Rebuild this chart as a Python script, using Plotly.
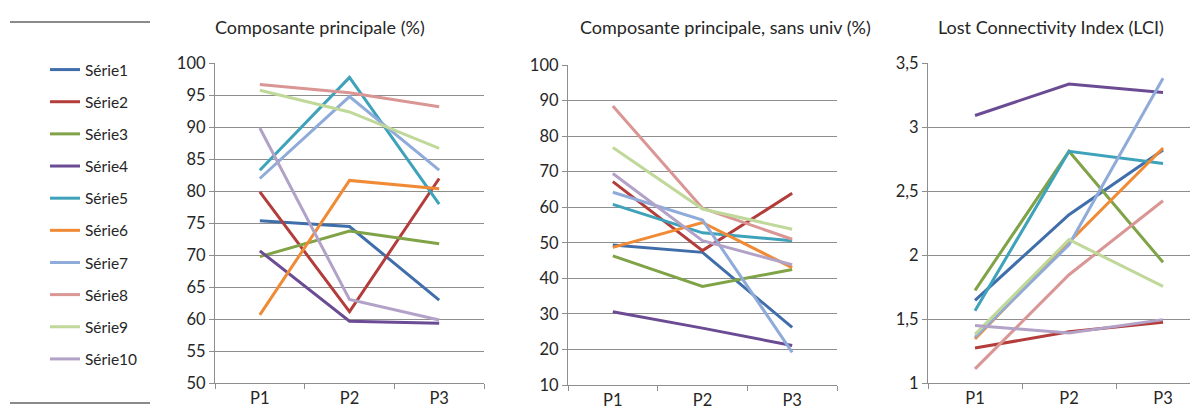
import plotly.graph_objects as go

categories = ["P1", "P2", "P3"]
series_names = ["Série1", "Série2", "Série3", "Série4", "Série5",
                "Série6", "Série7", "Série8", "Série9", "Série10"]
colors = ["#3f6eab", "#b33d3a", "#7fa346", "#6b4c94", "#3ea2ba",
          "#f08a35", "#8fabd9", "#d99694", "#c0d899", "#b3a2c8"]

comp_principale = [
    [75.4, 74.5, 63.0],
    [79.9, 61.2, 82.0],
    [69.8, 73.8, 71.8],
    [70.7, 59.7, 59.4],
    [83.3, 97.8, 78.0],
    [60.7, 81.7, 80.4],
    [82.0, 94.8, 83.3],
    [96.7, 95.4, 93.2],
    [95.8, 92.4, 86.7],
    [89.9, 63.1, 59.9],
]
comp_sans_univ = [
    [49.4, 47.3, 26.2],
    [67.2, 47.8, 63.9],
    [46.3, 37.7, 42.5],
    [30.6, 26.0, 21.1],
    [60.8, 52.8, 50.6],
    [48.7, 55.7, 43.0],
    [64.2, 56.4, 19.2],
    [88.5, 59.7, 51.0],
    [76.8, 59.5, 53.8],
    [69.5, 50.6, 43.8],
]
lci = [
    [1.646, 2.315, 2.82],
    [1.273, 1.40, 1.474],
    [1.724, 2.81, 1.943],
    [3.09, 3.336, 3.27],
    [1.565, 2.81, 2.714],
    [1.344, 2.10, 2.836],
    [1.357, 2.08, 3.38],
    [1.11, 1.846, 2.424],
    [1.38, 2.12, 1.755],
    [1.45, 1.39, 1.495],
]

titles = ["Composante principale (%)",
          "Composante principale, sans univ (%)",
          "Lost Connectivity Index (LCI)"]
y1_ticks = [50, 55, 60, 65, 70, 75, 80, 85, 90, 95, 100]
y2_ticks = [10, 20, 30, 40, 50, 60, 70, 80, 90, 100]
y3_ticks = [1, 1.5, 2, 2.5, 3, 3.5]
y3_ticktext = ["1", "1,5", "2", "2,5", "3", "3,5"]

FONT = "Lato"
W, H = 1198, 412
OFF = 8  # page offset of the figure inside the browser window
fig = go.Figure()

panels = [(comp_principale, "x", "y"), (comp_sans_univ, "x2", "y2"), (lci, "x3", "y3")]
for p, (data, xa, ya) in enumerate(panels):
    for i, vals in enumerate(data):
        fig.add_trace(go.Scatter(
            x=categories, y=vals, mode="lines", name=series_names[i],
            line=dict(color=colors[i], width=3),
            xaxis=xa, yaxis=ya, showlegend=(p == 0),
            legendgroup=str(i),
        ))

grid = "#8e8e8e"
axis_common = dict(showline=True, linecolor=grid, linewidth=1.3,
                   tickfont=dict(family=FONT, size=16.5, color="#262626"),
                   ticks="outside", tickcolor=grid, ticklen=5, zeroline=False)

def xaxis(domain, rng, anchor):
    return dict(domain=domain, range=rng, type="category", anchor=anchor,
                tickson="boundaries", showgrid=False, **axis_common)

def yaxis(domain, rng, anchor, tickvals, ticktext=None):
    d = dict(domain=domain, range=rng, anchor=anchor, tickvals=tickvals,
             showgrid=True, gridcolor=grid, gridwidth=1.3, **axis_common)
    if ticktext is not None:
        d["ticktext"] = ticktext
    return d

def px_x(v):
    return (v - OFF) / W

def px_y(v):
    return (H - (v - OFF)) / H

fig.update_layout(
    width=W, height=H, margin=dict(l=0, r=0, t=0, b=0, autoexpand=False),
    paper_bgcolor="white", plot_bgcolor="white",
    xaxis=xaxis([px_x(215), px_x(484)], [-0.5, 2.5], "y"),
    yaxis=yaxis([px_y(383.3), px_y(63.3)], [50, 100], "x", y1_ticks),
    xaxis2=xaxis([px_x(568), px_x(837)], [-0.5, 2.5], "y2"),
    yaxis2=yaxis([px_y(385), px_y(65)], [10, 100], "x2", y2_ticks),
    xaxis3=xaxis([px_x(928), 1.0], [-0.5, 2.457], "y3"),
    yaxis3=yaxis([px_y(383), px_y(63)], [1, 3.5], "x3", y3_ticks, y3_ticktext),
    legend=dict(x=px_x(45), y=px_y(53), xanchor="left", yanchor="top",
                font=dict(family=FONT, size=15.5, color="#262626"),
                tracegroupgap=9, itemwidth=30, bgcolor="rgba(0,0,0,0)"),
    showlegend=True,
)

title_centers = [320, 725, 1051]
for t, cx in zip(titles, title_centers):
    fig.add_annotation(text=t, x=px_x(cx), y=px_y(27), xref="paper", yref="paper",
                       showarrow=False, xanchor="center", yanchor="middle",
                       font=dict(family=FONT, size=18, color="#262626"))

for yy in (22, 403):
    fig.add_shape(type="line", xref="paper", yref="paper",
                  x0=px_x(10), x1=px_x(150), y0=px_y(yy), y1=px_y(yy),
                  line=dict(color="#8a8a8a", width=2))

fig.write_html("out.html")
